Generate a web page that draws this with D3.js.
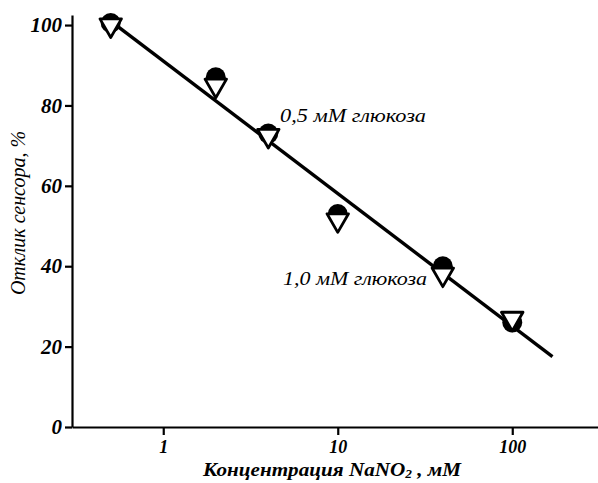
<!DOCTYPE html>
<html>
<head>
<meta charset="utf-8">
<script src="https://cdn.jsdelivr.net/npm/d3@7"></script>
<style>
  body { margin: 0; background: #fff; }
  svg text { font-family: "Liberation Serif", "DejaVu Serif", serif; font-style: italic; fill: #000; }
</style>
</head>
<body>
<div id="chart"></div>
<script>
// NaNO2 concentration, mM
const conc = [0.5, 2, 4, 10, 40, 100];
// sensor response, % (filled circles, 0.5 mM glucose)
const resp05 = [100.5, 87, 73, 53, 40, 26];
// sensor response, % (open triangles, 1.0 mM glucose)
const resp10 = [100, 85, 72.5, 51.5, 38, 27];
// fitted line end points
const fitX = [0.5, 170];
const fitY = [101, 17.5];

const yMajor = [0, 20, 40, 60, 80, 100];
const yMinor = d3.range(0, 101, 5).filter(v => v % 20 !== 0);
const xMajor = [1, 10, 100];
const xMinor = [0.3, 0.4, 0.5, 0.6, 0.7, 0.8, 0.9, 2, 3, 4, 5, 6, 7, 8, 9,
  20, 30, 40, 50, 60, 70, 80, 90, 200, 300];

function renderChart() {
    const width = 598, height = 483;
    const svg = d3.select("#chart").html("").append("svg")
        .attr("width", width)
        .attr("height", height);

    const x = d3.scaleLog().domain([0.3, 310]).range([72, 598]);
    const y = d3.scaleLinear().domain([0, 102.5]).range([427, 15]);

    // y axis
    const gy = svg.append("g").attr("transform", "translate(72,0)");
    gy.call(d3.axisLeft(y).tickValues(yMinor).tickSize(4).tickFormat(""));
    gy.call(d3.axisLeft(y).tickValues(yMajor).tickSize(7).tickSizeOuter(0).tickPadding(3));
    gy.selectAll("path, line").attr("stroke", "#000").attr("stroke-width", 2.2);
    gy.selectAll("text").style("font-size", "21px").style("font-weight", "bold");

    // x axis
    const gx = svg.append("g").attr("transform", "translate(0,427)");
    gx.call(d3.axisBottom(x).tickValues(xMinor).tickSize(4).tickFormat(""));
    gx.call(d3.axisBottom(x).tickValues(xMajor).tickSize(8).tickSizeOuter(0)
        .tickPadding(5).tickFormat(d3.format("d")));
    gx.selectAll("path, line").attr("stroke", "#000").attr("stroke-width", 2.2);
    gx.selectAll("text").style("font-size", "18px").style("font-weight", "bold");

    // fitted line
    svg.append("path")
        .datum(fitX.map((v, i) => [v, fitY[i]]))
        .attr("d", d3.line().x(d => x(d[0])).y(d => y(d[1])))
        .attr("stroke", "#000").attr("stroke-width", 3.4).attr("fill", "none");

    // filled circles: 0.5 mM glucose
    svg.append("g").selectAll("circle").data(conc).enter().append("circle")
        .attr("cx", d => x(d))
        .attr("cy", (d, i) => y(resp05[i]))
        .attr("r", 10)
        .attr("fill", "#000");

    // open down triangles: 1.0 mM glucose
    const tri = d3.symbol().type(d3.symbolTriangle).size(200);
    svg.append("g").selectAll("path").data(conc).enter().append("path")
        .attr("d", tri)
        .attr("transform", (d, i) => `translate(${x(d)},${y(resp10[i])}) rotate(180)`)
        .attr("fill", "#fff")
        .attr("stroke", "#000")
        .attr("stroke-width", 2.8)
        .attr("stroke-linejoin", "round");

    // annotations
    svg.append("text").attr("x", 280).attr("y", 122)
        .attr("textLength", 146).attr("lengthAdjust", "spacingAndGlyphs")
        .style("font-size", "18px").text("0,5 мМ глюкоза");
    svg.append("text").attr("x", 283).attr("y", 285)
        .attr("textLength", 144).attr("lengthAdjust", "spacingAndGlyphs")
        .style("font-size", "18px").text("1,0 мМ глюкоза");

    // axis titles
    const xt = svg.append("text").attr("x", 332).attr("y", 476)
        .attr("text-anchor", "middle")
        .attr("textLength", 258).attr("lengthAdjust", "spacingAndGlyphs")
        .style("font-size", "19px").style("font-weight", "bold");
    xt.append("tspan").text("Концентрация NaNO");
    xt.append("tspan").attr("dy", 2).style("font-size", "12px").text("2");
    xt.append("tspan").attr("dy", -2).text(" , мМ");

    svg.append("text")
        .attr("transform", "translate(25,213) rotate(-90)")
        .attr("text-anchor", "middle")
        .style("font-size", "20px")
        .text("Отклик сенсора, %");
}

renderChart();
</script>
</body>
</html>
